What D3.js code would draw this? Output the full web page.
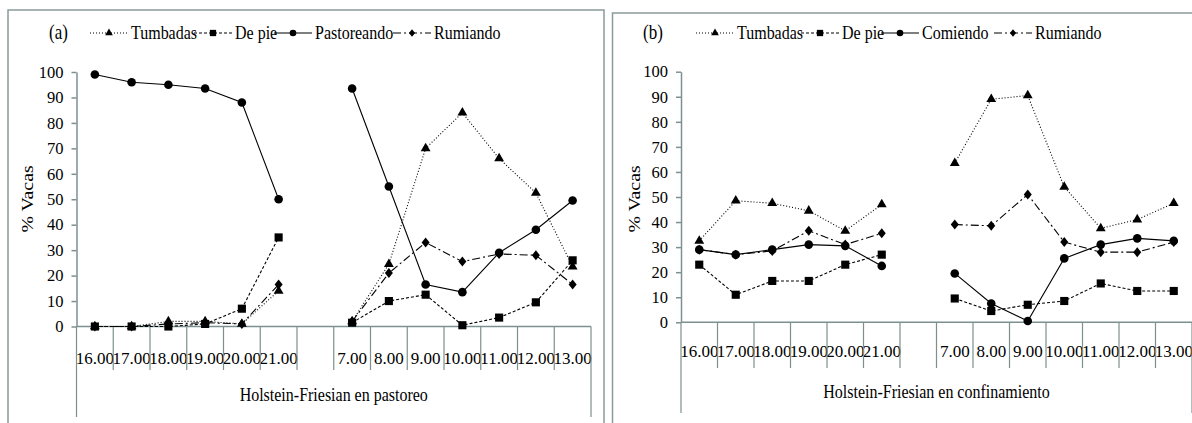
<!DOCTYPE html>
<html>
<head>
<meta charset="utf-8">
<script src="https://d3js.org/d3.v7.min.js"></script>
<style>
  body { margin: 0; background: #fff; }
  svg, svg text { font-family: "Liberation Serif", Tinos, "Times New Roman", "DejaVu Serif", serif !important; }
</style>
</head>
<body>
<div id="chart"></div>
<script>
// category labels (the empty one is the night gap)
var catLabels = ["16.00","17.00","18.00","19.00","20.00","21.00","","7.00","8.00","9.00","10.00","11.00","12.00","13.00"];
var yTicks = [0,10,20,30,40,50,60,70,80,90,100];

// (a) Holstein-Friesian en pastoreo
var aTumbadas    = [0,0,2,2,1,14,null,2,24.5,70,84,66,52.5,23.5];
var aDePie       = [0,0,0,1,7,35,null,1.5,10,12.5,0.5,3.5,9.5,26];
var aPastoreando = [99,96,95,93.5,88,50,null,93.5,55,16.5,13.5,29,38,49.5];
var aRumiando    = [0,0,1,1.5,1,16.5,null,2,21,33,25.5,28.5,28,16.5];

// (b) Holstein-Friesian en confinamiento
var bTumbadas = [32.5,48.5,47.5,44.5,36.5,47,null,63.5,89,90.5,54,37.5,41,47.5];
var bDePie    = [23,11,16.5,16.5,23,27,null,9.5,4.5,7,8.5,15.5,12.5,12.5];
var bComiendo = [29,27,29,31,30.5,22.5,null,19.5,7.5,0.5,25.5,31,33.5,32.5];
var bRumiando = [29,27,28.5,36.5,31,35.5,null,39,38.5,51,32,28,28,32];

var W = 1192, H = 423;
var axisCol = "#7d9090";
var frameCol = "#8a9b9b";

var svg = d3.select("#chart").append("svg")
    .attr("width", W).attr("height", H);

// a slightly taller diamond than d3's default
var diamond = {
    draw: function(ctx, size) {
        var w = Math.sqrt(size) * 0.5, h = w * 1.25;
        ctx.moveTo(0, -h); ctx.lineTo(w, 0); ctx.lineTo(0, h); ctx.lineTo(-w, 0); ctx.closePath();
    }
};

var styles = {
    tri:  { sym: d3.symbolTriangle, size: 42, dash: "1,2" },
    sq:   { sym: d3.symbolSquare,   size: 66, dash: "3,2" },
    circ: { sym: d3.symbolCircle,   size: 58, dash: null },
    dia:  { sym: diamond,           size: 64, dash: "8,3,2,3" }
};

// text with the slight vertical stretch seen in the picture
function stretchText(g, x, y, str, size, anchor, rot) {
    return g.append("text")
        .attr("transform", "translate(" + x + "," + y + ") scale(1,1.2)" + (rot ? " rotate(" + rot + ")" : ""))
        .attr("text-anchor", anchor || "start")
        .style("font-size", size + "px")
        .attr("fill", "#000")
        .text(str);
}

function drawPanel(p) {
    var g = svg.append("g");

    // frame
    g.append("rect")
        .attr("x", p.frame[0]).attr("y", p.frame[1])
        .attr("width", p.frame[2]).attr("height", 500)
        .attr("fill", "none").attr("stroke", frameCol).attr("stroke-width", 1.5);

    var x = d3.scaleBand().domain(d3.range(catLabels.length)).range([p.x0, p.x1]).padding(0);
    var y = d3.scaleLinear().domain([0, 100]).range([p.y0, p.y100]);

    // y axis
    var yAx = g.append("g")
        .attr("transform", "translate(" + p.x0 + ",0)")
        .call(d3.axisLeft(y).tickValues(yTicks).tickSize(5).tickPadding(8).tickSizeOuter(0));
    yAx.attr("font-family", null);
    yAx.select(".domain").attr("stroke", axisCol).attr("stroke-width", 1.5);
    yAx.selectAll(".tick line").attr("stroke", axisCol).attr("stroke-width", 1.5);
    yAx.selectAll("text").attr("fill", "#000").style("font-size", "16.5px");

    // x axis labels
    var xAx = g.append("g")
        .attr("transform", "translate(0," + p.y0 + ")")
        .call(d3.axisBottom(x).tickFormat(function(i) { return catLabels[i]; })
            .tickSize(0).tickPadding(p.labPad));
    xAx.attr("font-family", null);
    xAx.select(".domain").remove();
    xAx.selectAll("text").attr("fill", "#000").style("font-size", "17px");

    // x axis line and category dividers
    g.append("line")
        .attr("x1", p.x0).attr("x2", p.x1).attr("y1", p.y0).attr("y2", p.y0)
        .attr("stroke", axisCol).attr("stroke-width", 1.5);
    var bounds = d3.range(catLabels.length).map(function(i) { return x(i); }).concat([p.x1]);
    g.selectAll(".div").data(bounds).enter().append("line")
        .attr("x1", function(d) { return d; }).attr("x2", function(d) { return d; })
        .attr("y1", p.y0)
        .attr("y2", function(d, i) { return (i === 0 || i === bounds.length - 1) ? p.outerBottom : p.tickBottom; })
        .attr("stroke", axisCol).attr("stroke-width", 1.2);

    // titles
    stretchText(g, (p.x0 + p.x1) / 2, p.groupY, p.group, 16, "middle");
    stretchText(g, p.yTitleX, p.yTitleY, "% Vacas", 16.5, "middle", -90);
    stretchText(g, p.letterX, 39, p.letter, 17, "start");

    // series
    var cx = function(i) { return x(i) + x.bandwidth() / 2; };
    p.series.forEach(function(s) {
        var st = styles[s.mark];
        var line = d3.line()
            .defined(function(d) { return d != null; })
            .x(function(d, i) { return cx(i); })
            .y(function(d) { return y(d); });
        g.append("path")
            .datum(s.values)
            .attr("d", line)
            .attr("fill", "none")
            .attr("stroke", "#000")
            .attr("stroke-width", 1.1)
            .attr("stroke-dasharray", st.dash);
    });
    p.series.forEach(function(s) {
        var st = styles[s.mark];
        var pts = s.values.map(function(v, i) { return { v: v, i: i }; })
            .filter(function(d) { return d.v != null; });
        g.selectAll(null).data(pts).enter().append("path")
            .attr("d", d3.symbol().type(st.sym).size(st.size))
            .attr("transform", function(d) { return "translate(" + cx(d.i) + "," + y(d.v) + ")"; })
            .attr("fill", "#000");
    });

    // legend
    p.series.forEach(function(s, k) {
        var st = styles[s.mark];
        var lx = p.legend[k];
        g.append("line")
            .attr("x1", lx).attr("x2", lx + 38).attr("y1", 33).attr("y2", 33)
            .attr("stroke", "#000").attr("stroke-width", 1.1)
            .attr("stroke-dasharray", st.dash);
        g.append("path")
            .attr("d", d3.symbol().type(st.sym).size(st.size * 0.6))
            .attr("transform", "translate(" + (lx + 19) + ",33)")
            .attr("fill", "#000");
        stretchText(g, lx + 41, 39, s.name, 16, "start");
    });
}

drawPanel({
    frame: [8, 10, 596],
    x0: 76.5, x1: 591, y0: 326.5, y100: 72,
    labPad: 25, tickBottom: 370, outerBottom: 417,
    group: "Holstein-Friesian en pastoreo", groupY: 401,
    yTitleX: 33, yTitleY: 199, letter: "(a)", letterX: 49,
    legend: [90, 194, 274, 393],
    series: [
        { name: "Tumbadas", mark: "tri", values: aTumbadas },
        { name: "De pie", mark: "sq", values: aDePie },
        { name: "Pastoreando", mark: "circ", values: aPastoreando },
        { name: "Rumiando", mark: "dia", values: aRumiando }
    ]
});

drawPanel({
    frame: [612.5, 13, 600],
    x0: 681, x1: 1192, y0: 322.3, y100: 71.7,
    labPad: 23, tickBottom: 368, outerBottom: 413,
    group: "Holstein-Friesian en confinamiento", groupY: 398,
    yTitleX: 640, yTitleY: 199, letter: "(b)", letterX: 643,
    legend: [696, 801, 881, 994],
    series: [
        { name: "Tumbadas", mark: "tri", values: bTumbadas },
        { name: "De pie", mark: "sq", values: bDePie },
        { name: "Comiendo", mark: "circ", values: bComiendo },
        { name: "Rumiando", mark: "dia", values: bRumiando }
    ]
});
</script>
</body>
</html>
